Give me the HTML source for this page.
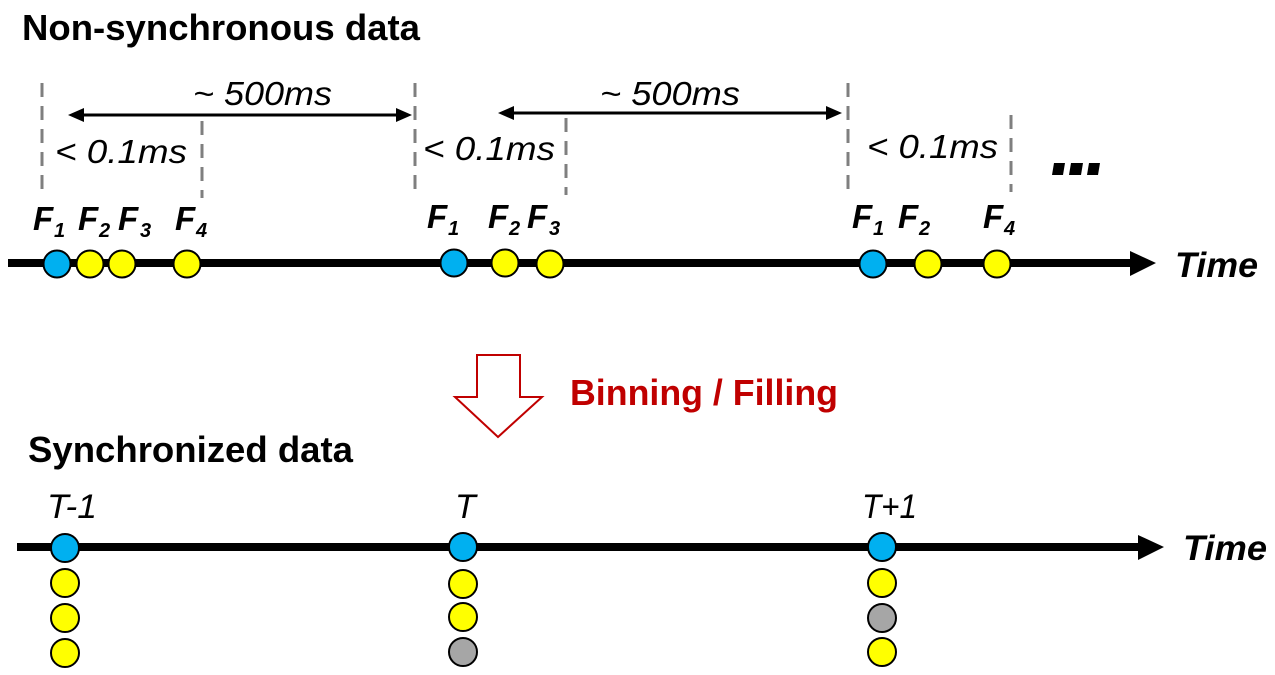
<!DOCTYPE html>
<html>
<head>
<meta charset="utf-8">
<style>
  html, body { margin:0; padding:0; background:#fff; }
  svg { display:block; }
  text { font-family: "Liberation Sans", Arial, sans-serif; }
</style>
</head>
<body>
<svg width="1275" height="675" viewBox="0 0 1275 675" xmlns="http://www.w3.org/2000/svg">
  <rect width="1275" height="675" fill="#ffffff"/>

  <!-- Titles -->
  <text x="22" y="40" font-size="36" font-weight="bold" fill="#000" textLength="398" lengthAdjust="spacingAndGlyphs">Non-synchronous data</text>
  <text x="28" y="462" font-size="36" font-weight="bold" fill="#000" textLength="325" lengthAdjust="spacingAndGlyphs">Synchronized data</text>

  <!-- Dashed vertical lines -->
  <g stroke="#7f7f7f" stroke-width="3" stroke-dasharray="14 9">
    <line x1="42" y1="83" x2="42" y2="193"/>
    <line x1="202" y1="121" x2="202" y2="198"/>
    <line x1="415" y1="83" x2="415" y2="193"/>
    <line x1="566" y1="118" x2="566" y2="195"/>
    <line x1="848" y1="83" x2="848" y2="193"/>
    <line x1="1011" y1="115" x2="1011" y2="192"/>
  </g>

  <!-- Double arrows -->
  <g stroke="#000" stroke-width="3">
    <line x1="80" y1="115" x2="400" y2="115"/>
    <line x1="510" y1="113" x2="830" y2="113"/>
  </g>
  <g fill="#000">
    <polygon points="68,115 84,108 84,122"/>
    <polygon points="412,115 396,108 396,122"/>
    <polygon points="498,113 514,106 514,120"/>
    <polygon points="842,113 826,106 826,120"/>
  </g>

  <!-- Duration labels -->
  <g font-size="33" font-style="italic" fill="#000">
    <text x="193" y="105" textLength="139" lengthAdjust="spacingAndGlyphs">~ 500ms</text>
    <text x="600" y="105" textLength="140" lengthAdjust="spacingAndGlyphs">~ 500ms</text>
    <text x="55" y="163" textLength="132" lengthAdjust="spacingAndGlyphs">&lt; 0.1ms</text>
    <text x="423" y="160" textLength="132" lengthAdjust="spacingAndGlyphs">&lt; 0.1ms</text>
    <text x="867" y="158" textLength="131" lengthAdjust="spacingAndGlyphs">&lt; 0.1ms</text>
  </g>

  <!-- ellipsis -->
  <g fill="#000">
    <polygon points="1054,163 1065,163 1063,175 1052,175"/>
    <polygon points="1071,163 1083,163 1081,175 1069,175"/>
    <polygon points="1089,163 1100,163 1098,175 1087,175"/>
  </g>

  <!-- F labels -->
  <g font-weight="bold" font-style="italic" fill="#000">
    <text x="33" y="230" font-size="33">F</text><text x="54" y="237" font-size="20">1</text>
    <text x="78" y="230" font-size="33">F</text><text x="99" y="237" font-size="20">2</text>
    <text x="118" y="230" font-size="33">F</text><text x="140" y="237" font-size="20">3</text>
    <text x="175" y="230" font-size="33">F</text><text x="196" y="237" font-size="20">4</text>

    <text x="427" y="228" font-size="33">F</text><text x="448" y="235" font-size="20">1</text>
    <text x="488" y="228" font-size="33">F</text><text x="509" y="235" font-size="20">2</text>
    <text x="527" y="228" font-size="33">F</text><text x="549" y="235" font-size="20">3</text>

    <text x="852" y="228" font-size="33">F</text><text x="873" y="235" font-size="20">1</text>
    <text x="898" y="228" font-size="33">F</text><text x="919" y="235" font-size="20">2</text>
    <text x="983" y="228" font-size="33">F</text><text x="1004" y="235" font-size="20">4</text>
  </g>

  <!-- Top timeline -->
  <line x1="8" y1="263" x2="1134" y2="263" stroke="#000" stroke-width="8"/>
  <polygon points="1130,251 1156,263 1130,276" fill="#000"/>
  <text x="1175" y="277" font-size="35" font-weight="bold" font-style="italic" fill="#000" textLength="83" lengthAdjust="spacingAndGlyphs">Time</text>

  <g stroke="#000" stroke-width="2">
    <circle cx="57" cy="264" r="13.5" fill="#00b0f0"/>
    <circle cx="90" cy="264" r="13.5" fill="#ffff00"/>
    <circle cx="122" cy="264" r="13.5" fill="#ffff00"/>
    <circle cx="187" cy="264" r="13.5" fill="#ffff00"/>

    <circle cx="454" cy="263" r="13.5" fill="#00b0f0"/>
    <circle cx="505" cy="263" r="13.5" fill="#ffff00"/>
    <circle cx="550" cy="264" r="13.5" fill="#ffff00"/>

    <circle cx="873" cy="264" r="13.5" fill="#00b0f0"/>
    <circle cx="928" cy="264" r="13.5" fill="#ffff00"/>
    <circle cx="997" cy="264" r="13.5" fill="#ffff00"/>
  </g>

  <!-- Red block arrow -->
  <polygon points="477,355 520,355 520,397 542,397 498,437 455,397 477,397" fill="#fff" stroke="#c00000" stroke-width="2"/>
  <text x="570" y="405" font-size="36" font-weight="bold" fill="#c00000" textLength="268" lengthAdjust="spacingAndGlyphs">Binning / Filling</text>

  <!-- Bottom timeline -->
  <line x1="17" y1="547" x2="1142" y2="547" stroke="#000" stroke-width="8"/>
  <polygon points="1138,535 1164,547 1138,560" fill="#000"/>
  <text x="1183" y="560" font-size="35" font-weight="bold" font-style="italic" fill="#000" textLength="84" lengthAdjust="spacingAndGlyphs">Time</text>

  <g font-size="34" font-style="italic" fill="#000">
    <text x="47" y="518" textLength="50" lengthAdjust="spacingAndGlyphs">T-1</text>
    <text x="455" y="518">T</text>
    <text x="862" y="518" textLength="55" lengthAdjust="spacingAndGlyphs">T+1</text>
  </g>

  <g stroke="#000" stroke-width="2">
    <circle cx="65" cy="548" r="14" fill="#00b0f0"/>
    <circle cx="65" cy="583" r="14" fill="#ffff00"/>
    <circle cx="65" cy="618" r="14" fill="#ffff00"/>
    <circle cx="65" cy="653" r="14" fill="#ffff00"/>

    <circle cx="463" cy="547" r="14" fill="#00b0f0"/>
    <circle cx="463" cy="584" r="14" fill="#ffff00"/>
    <circle cx="463" cy="617" r="14" fill="#ffff00"/>
    <circle cx="463" cy="652" r="14" fill="#a6a6a6"/>

    <circle cx="882" cy="547" r="14" fill="#00b0f0"/>
    <circle cx="882" cy="583" r="14" fill="#ffff00"/>
    <circle cx="882" cy="618" r="14" fill="#a6a6a6"/>
    <circle cx="882" cy="652" r="14" fill="#ffff00"/>
  </g>
</svg>
</body>
</html>
